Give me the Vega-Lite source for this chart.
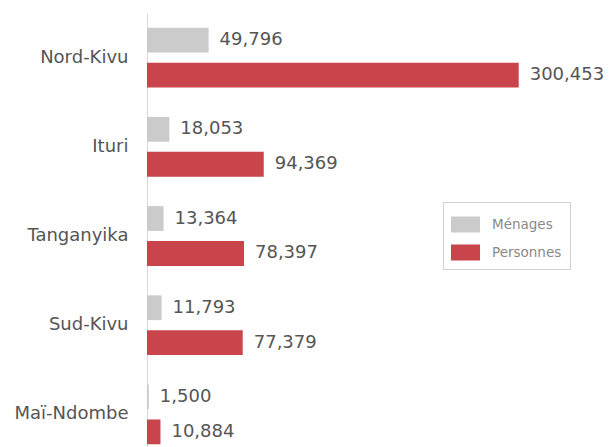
{
  "$schema": "https://vega.github.io/schema/vega-lite/v6.json",
  "width": 433,
  "height": 446,
  "autosize": "none",
  "padding": {"left": 147, "top": 13, "right": 30, "bottom": 0},
  "background": "white",
  "config": {"view": {"stroke": null}, "font": "DejaVu Sans"},
  "data": {
    "values": [
      {"region": "Nord-Kivu", "serie": "Ménages", "value": 49796},
      {"region": "Nord-Kivu", "serie": "Personnes", "value": 300453},
      {"region": "Ituri", "serie": "Ménages", "value": 18053},
      {"region": "Ituri", "serie": "Personnes", "value": 94369},
      {"region": "Tanganyika", "serie": "Ménages", "value": 13364},
      {"region": "Tanganyika", "serie": "Personnes", "value": 78397},
      {"region": "Sud-Kivu", "serie": "Ménages", "value": 11793},
      {"region": "Sud-Kivu", "serie": "Personnes", "value": 77379},
      {"region": "Maï-Ndombe", "serie": "Ménages", "value": 1500},
      {"region": "Maï-Ndombe", "serie": "Personnes", "value": 10884}
    ]
  },
  "encoding": {
    "y": {
      "field": "region",
      "type": "nominal",
      "sort": null,
      "scale": {"paddingInner": 0.33, "paddingOuter": 0.165},
      "axis": {
        "title": null,
        "ticks": false,
        "domainColor": "#d8d8d8",
        "domainWidth": 1,
        "labelFontSize": 18,
        "labelColor": "#555555",
        "labelPadding": 19,
        "labelFont": "DejaVu Sans"
      }
    },
    "yOffset": {
      "field": "serie",
      "type": "nominal",
      "sort": ["Ménages", "Personnes"],
      "scale": {"paddingInner": 0.29, "paddingOuter": 0}
    },
    "x": {
      "field": "value",
      "type": "quantitative",
      "scale": {"domain": [0, 350000], "nice": false},
      "axis": null
    }
  },
  "layer": [
    {
      "mark": {"type": "bar"},
      "encoding": {
        "color": {
          "field": "serie",
          "type": "nominal",
          "sort": ["Ménages", "Personnes"],
          "scale": {"domain": ["Ménages", "Personnes"], "range": ["#cbcbcb", "#c9444b"]},
          "legend": {
            "title": null,
            "orient": "none",
            "legendX": 296,
            "legendY": 189,
            "strokeColor": "#d0d0d0",
            "padding": 8,
            "symbolType": "M-1,-0.552H1V0.552H-1Z",
            "symbolSize": 841,
            "symbolStrokeWidth": 0,
            "symbolOpacity": 1,
            "rowPadding": 5,
            "labelFontSize": 13.5,
            "labelColor": "#8a8a8a",
            "labelOffset": 12,
            "labelFont": "DejaVu Sans"
          }
        }
      }
    },
    {
      "mark": {"type": "text", "align": "left", "baseline": "middle", "dx": 11, "fontSize": 18, "color": "#555555", "font": "DejaVu Sans"},
      "encoding": {
        "text": {"field": "value", "type": "quantitative", "format": ","}
      }
    }
  ]
}
